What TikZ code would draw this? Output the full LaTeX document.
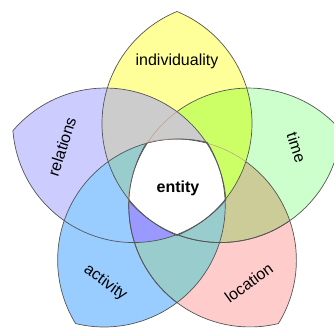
\documentclass[tikz,border=0pt]{standalone}
\usepackage{fontspec}
\setmainfont{Liberation Sans}
\usepackage{tikz}

\definecolor{indivc}{HTML}{FFFF99}
\definecolor{timec}{HTML}{CCFFCC}
\definecolor{locc}{HTML}{FFCCCC}
\definecolor{activc}{HTML}{99CCFF}
\definecolor{relc}{HTML}{CCCCFF}
\definecolor{greyc}{HTML}{CCCCCC}
\definecolor{limec}{HTML}{CCFF66}
\definecolor{khakic}{HTML}{CCCC99}
\definecolor{tealc}{HTML}{99CCCC}
\definecolor{violetc}{HTML}{9999FF}
\definecolor{edgec}{HTML}{555555}
\definecolor{faintc}{HTML}{C09A8A}

\tikzset{
  outline/.style={draw=edgec,line width=0.7pt},
  faintline/.style={draw=faintc,line width=0.5pt},
  petaltext/.style={font=\fontsize{16}{19}\selectfont}
}

% one lens along direction #1, outer tip 172.5 out, inner tip 51.5 behind the middle
\newcommand{\petal}[1]{(#1:172.5) arc[start angle=#1+22.38,end angle=#1+157.62,radius=121.1]
  arc[start angle=#1+202.38,end angle=#1+337.62,radius=121.1] -- cycle}
% everything but one lens (use with even odd rule)
\newcommand{\notpetal}[1]{(-177,-143) rectangle (157,184) \petal{#1}}
\newcommand{\pairfill}[3]{\begin{scope}\clip \petal{#1};
  \fill[#3] \petal{#2};\end{scope}}
\newcommand{\triplefill}[4]{\begin{scope}\clip \petal{#1};
  \clip \petal{#2};\fill[#4] \petal{#3};\end{scope}}
% edge of #1, faint inside #2 but outside #3
\newcommand{\halfedge}[3]{%
  \begin{scope}[even odd rule]\clip \notpetal{#2};\draw[outline] \petal{#1};\end{scope}
  \begin{scope}\clip \petal{#3};\draw[outline] \petal{#1};\end{scope}
  \begin{scope}[even odd rule]\clip \petal{#2};\clip \notpetal{#3};
    \draw[faintline] \petal{#1};\end{scope}}

\begin{document}
\begin{tikzpicture}[x=1pt,y=1pt]
\clip (-177,-143) rectangle (157,184);
\fill[white] (-177,-143) rectangle (157,184);

% single petals
\foreach \a/\c in {90/indivc,18/timec,-54/locc,-126/activc,162/relc}
  \fill[\c] \petal{\a};

% neighbour overlaps
\pairfill{90}{162}{greyc}
\pairfill{90}{18}{limec}
\pairfill{18}{-54}{khakic}
\pairfill{-54}{-126}{tealc}
\pairfill{-126}{162}{activc}

% three at once
\triplefill{90}{18}{-54}{limec}
\triplefill{90}{18}{162}{greyc}
\triplefill{90}{162}{-54}{greyc}
\triplefill{90}{162}{-126}{tealc}
\triplefill{18}{-54}{-126}{tealc}
\triplefill{-54}{-126}{162}{violetc}

% the middle
\begin{scope}
  \clip \petal{90};
  \clip \petal{18};
  \clip \petal{-54};
  \clip \petal{-126};
  \fill[white] \petal{162};
\end{scope}

% edges
\foreach \a in {90,-126,162}
  \draw[outline] \petal{\a};
\halfedge{18}{162}{-54}
\halfedge{-54}{90}{-126}

% labels
\node[petaltext] (individuality) at (90:123) {individuality};
\node[petaltext,rotate=-72] (time) at (17:125) {time};
\node[petaltext,rotate=36] (location) at (-54:122) {location};
\node[petaltext,rotate=-36] (activity) at (-126:122) {activity};
\node[petaltext,rotate=72] (relations) at (162:121) {relations};
\node[petaltext,font=\fontsize{16}{19}\selectfont\bfseries] (entity) at (1,-4) {entity};
\end{tikzpicture}
\end{document}
